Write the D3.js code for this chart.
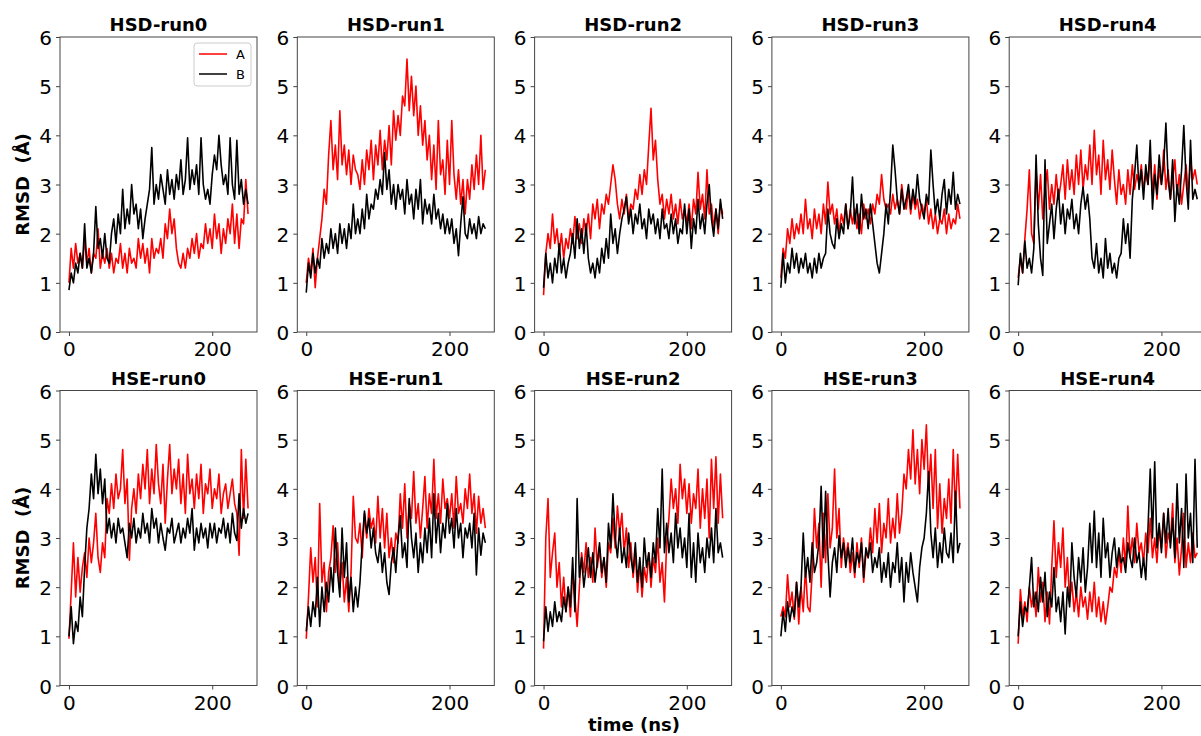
<!DOCTYPE html>
<html lang="en">
<head>
<meta charset="UTF-8">
<title>RMSD HSD / HSE runs</title>
<script src="https://d3js.org/d3.v7.min.js"></script>
<style>
  body { margin: 0; background: #fff; }
  svg { font-family: "DejaVu Sans", sans-serif; }
  .tick line { stroke: #444; }
  .title { font-size: 18px; font-weight: bold; }
  .lab { font-size: 18px; font-weight: bold; white-space: pre; }
</style>
</head>
<body>
<svg id="fig" width="1201" height="736"></svg>
<script>
// sampling step of the traces (ns), 81 samples from 0 to 250
var dt = 3.125;

var titles = ["HSD-run0", "HSD-run1", "HSD-run2", "HSD-run3", "HSD-run4",
              "HSE-run0", "HSE-run1", "HSE-run2", "HSE-run3", "HSE-run4"];
var yTicks = [0, 1, 2, 3, 4, 5, 6];
var xTicks = [0, 200];
var seriesNames = ["A", "B"];
var seriesColors = ["#ff0000", "#000000"];

// RMSD values (Å)
var hsd0A = [1.0,1.7,1.3,1.8,1.4,1.6,1.3,1.9, 1.4,1.7,1.2,1.6,1.5,2.1,1.3,1.6, 1.4,1.7,1.3,1.6,1.2,1.5,1.4,1.8,
  1.3,1.6,1.2,1.7,1.4,1.5,1.3,1.9, 1.5,1.8,1.4,1.7,1.2,1.9,1.5,1.7, 1.6,1.9,1.5,2.2,1.9,2.5,2.0,2.3,
  1.7,1.4,1.3,1.6,1.3,1.7,1.5,1.9, 1.6,2.0,1.5,1.8,1.7,2.2,1.8,2.1, 1.7,2.4,1.9,2.2,1.6,2.1,1.8,2.3,
  2.0,2.6,1.8,2.4,1.7,2.3,2.2,3.1, 2.4];
var hsd0B = [0.85,1.2,1.0,1.4,1.2,1.6,1.3,2.2, 1.3,1.5,1.2,1.6,2.55,1.7,1.9,1.5, 2.0,1.5,1.4,2.0,2.3,1.8,2.4,2.0,
  2.9,2.1,2.5,2.2,3.0,2.4,2.6,2.1, 2.5,1.9,2.3,2.6,2.9,3.75,2.6,3.0, 2.7,3.2,2.9,2.6,3.3,2.8,3.1,2.7,
  3.2,2.9,3.5,2.8,3.1,3.95,2.9,3.3, 3.0,3.4,2.8,3.95,3.0,2.7,2.9,2.6, 3.2,3.6,3.3,4.0,3.4,3.0,3.2,2.8,
  3.95,3.0,2.7,3.9,2.8,3.1,2.6,2.9, 2.6];

var hsd1A = [1.0,1.5,1.2,1.7,0.9,1.5,1.9,2.3, 2.9,2.6,3.6,4.3,3.3,3.8,3.1,4.5, 3.4,3.8,3.2,3.7,3.0,3.6,3.3,3.2,
  2.9,3.5,3.0,3.7,3.3,3.9,3.1,3.8, 3.4,4.1,3.3,3.9,3.5,4.2,3.4,4.5, 3.9,4.4,4.0,4.8,4.6,5.55,4.5,5.2,
  4.4,5.0,4.0,4.6,3.8,4.3,3.5,4.0, 3.1,3.8,2.9,4.3,3.2,3.5,2.8,3.9, 3.0,4.3,3.2,2.7,3.3,2.6,3.1,2.4,
  3.1,2.7,3.4,2.9,3.6,3.0,4.0,2.9, 3.3];
var hsd1B = [0.8,1.4,1.1,1.6,1.2,1.5,1.3,1.9, 1.5,1.8,1.6,2.1,1.7,2.0,1.6,2.2, 1.8,2.1,1.7,2.2,1.9,2.6,2.0,2.3,
  2.0,2.5,2.1,2.8,2.3,2.6,2.5,2.9, 2.7,3.1,2.8,3.65,2.9,3.3,2.6,3.0, 2.5,3.0,2.7,2.9,2.4,3.1,2.6,2.8,
  2.3,2.9,2.5,3.1,2.2,2.7,2.4,2.6, 2.2,2.8,2.3,2.5,2.1,2.4,2.0,2.3, 2.0,2.3,1.8,2.1,1.55,2.2,2.75,2.0,
  1.9,2.3,2.0,2.2,1.9,2.35,2.0,2.2, 2.1];

var hsd2A = [0.75,1.6,2.0,1.7,2.4,1.8,2.1,1.6, 2.0,1.5,1.9,1.7,2.1,1.8,2.35,1.9, 2.2,1.8,2.3,2.0,2.4,1.9,2.6,2.3,
  2.7,2.1,2.6,2.4,2.8,2.6,3.0,3.4, 3.1,2.6,2.3,2.7,2.4,2.8,2.3,2.6, 2.5,2.9,2.7,3.2,2.8,3.3,3.0,3.8,
  4.55,3.5,3.9,3.1,2.6,2.8,2.3,2.7, 2.4,2.8,2.3,2.6,2.2,2.7,2.3,2.5, 2.2,2.6,2.1,2.7,2.4,3.25,2.5,2.8,
  2.3,3.3,2.4,2.6,2.1,2.5,2.0,2.6, 2.4];
var hsd2B = [0.9,1.6,1.1,1.4,1.0,1.5,1.2,1.8, 1.2,1.5,1.1,1.4,1.6,2.0,1.5,2.3, 1.7,2.1,1.6,2.2,1.5,1.2,1.4,1.1,
  1.5,1.2,1.7,1.4,1.9,1.5,2.4,1.8, 2.1,1.6,2.0,2.3,2.5,2.75,2.2,2.5, 2.0,2.4,2.2,2.6,2.1,2.3,1.9,2.5,
  2.2,2.4,2.0,2.3,1.9,2.5,2.1,2.2, 1.9,2.4,2.0,2.3,1.8,2.1,2.0,2.6, 2.0,2.5,1.7,2.3,2.0,2.7,2.1,2.4,
  2.0,2.6,3.0,2.3,1.95,2.5,2.1,2.7, 2.3];

var hsd3A = [1.1,1.7,1.5,2.1,1.8,2.3,1.9,2.2, 2.0,2.4,2.0,2.7,2.1,2.3,1.9,2.5, 2.1,2.4,2.0,2.6,2.2,3.05,2.4,2.6,
  2.2,2.5,2.0,2.4,2.2,2.6,2.1,2.5, 2.2,2.5,2.1,2.4,2.0,2.6,2.3,2.5, 2.2,2.6,2.4,2.8,2.6,3.2,2.7,2.5,
  2.6,2.4,2.8,2.5,2.7,2.4,3.0,2.6, 2.5,2.9,2.4,2.8,2.5,2.7,2.3,2.6, 2.4,2.7,2.2,2.5,2.1,2.4,2.0,2.3,
  2.2,2.5,2.0,2.4,2.1,2.3,2.2,2.6, 2.3];
var hsd3B = [0.9,1.6,1.0,1.4,1.2,1.7,1.3,1.6, 1.2,1.5,1.3,1.6,1.2,1.4,1.1,1.5, 1.2,1.6,1.3,1.5,1.6,2.5,2.0,1.8,
  1.7,2.3,1.9,2.2,2.0,2.6,2.1,2.4, 3.15,2.2,2.6,2.0,2.8,2.3,2.5,2.1, 2.6,2.2,1.8,1.4,1.2,1.6,2.0,2.6,
  2.2,2.9,3.8,3.3,2.7,2.4,2.9,2.5, 2.7,3.0,2.5,2.9,2.6,3.2,2.7,2.5, 2.3,2.8,2.6,3.7,3.0,2.4,2.7,2.3,
  2.8,3.1,2.4,2.9,2.6,3.25,2.5,2.8, 2.6];

var hsd4A = [1.1,1.5,1.2,1.9,2.5,3.3,2.0,1.8, 3.3,2.5,3.2,2.3,2.9,3.3,2.5,3.0, 2.6,3.2,2.7,3.0,3.4,2.7,3.5,2.9,
  3.3,2.8,3.6,3.0,3.7,2.9,3.4,3.1, 3.8,3.0,4.1,3.2,3.6,2.8,3.9,3.1, 3.5,2.9,3.7,3.1,2.6,3.3,2.8,3.0,
  2.6,3.3,2.8,3.4,2.9,3.2,3.0,3.4, 2.9,3.2,3.0,3.6,2.8,3.4,2.7,3.3, 3.0,3.7,2.9,3.3,2.7,3.1,3.5,2.8,
  3.2,2.6,3.0,3.4,2.8,3.5,3.1,3.3, 3.0];
var hsd4B = [0.95,1.6,1.2,1.85,1.3,1.5,1.2,1.7, 3.6,2.2,1.5,1.15,3.5,1.8,2.2,2.6, 1.9,2.5,2.9,2.2,2.6,2.0,2.5,2.3,
  2.7,2.1,2.4,2.0,2.6,2.95,2.5,2.8, 2.3,1.5,1.3,1.8,1.2,1.5,1.1,1.9, 1.3,1.6,1.2,1.4,1.1,1.5,1.6,2.3,
  1.8,2.2,1.5,2.7,3.2,3.8,2.9,3.3, 2.7,3.4,3.0,3.9,2.5,3.2,2.8,3.6, 3.0,3.4,4.25,3.1,2.7,3.5,2.25,3.0,
  2.6,3.3,4.2,3.1,2.5,3.9,2.7,2.9, 2.7];

var hse0A = [0.95,1.9,2.9,1.8,2.6,1.9,2.4,2.7, 2.2,3.0,2.5,2.9,3.5,2.6,2.3,2.9, 2.6,3.8,3.5,4.1,3.6,4.3,3.8,4.0,
  4.8,3.7,4.2,2.55,3.6,4.0,3.5,4.3, 3.8,4.5,4.0,4.8,3.7,4.4,3.9,4.9, 4.1,3.7,4.5,3.3,4.2,4.9,3.9,4.4,
  4.0,4.6,3.7,4.3,3.5,4.7,3.9,4.2, 3.6,4.3,3.8,4.5,3.5,4.1,3.9,4.4, 3.6,4.0,3.8,4.3,3.5,3.9,4.1,3.6,
  3.9,4.2,3.7,3.5,2.65,4.8,3.4,4.6, 3.6];
var hse0B = [1.0,1.6,0.85,1.3,1.1,1.8,1.4,2.4, 3.2,3.6,4.3,3.8,4.7,3.9,4.4,3.7, 4.2,3.1,3.4,3.0,3.3,2.9,3.4,3.1,
  3.2,2.9,2.6,3.3,3.0,3.4,2.9,3.2, 3.0,3.5,3.1,3.3,2.9,3.6,3.2,3.4, 2.9,3.3,3.0,2.75,3.2,3.1,3.4,2.9,
  3.1,3.3,2.9,3.2,3.0,3.4,3.1,3.6, 2.75,3.2,2.9,3.3,3.0,3.2,2.8,3.3, 3.0,3.3,2.9,3.2,3.1,3.4,3.0,3.3,
  2.9,3.5,3.1,2.95,3.9,3.2,3.6,3.3, 3.5];

var hse1A = [0.95,1.8,2.8,2.1,2.6,1.6,3.7,2.1, 2.5,1.5,2.3,2.6,3.25,2.3,2.9,2.0, 2.5,1.7,2.2,1.5,2.3,3.85,3.0,2.9,
  3.3,2.6,3.5,3.0,3.6,3.2,3.4,2.9, 3.85,3.0,3.6,2.8,3.5,2.6,3.0,2.5, 3.1,2.9,3.9,3.2,4.1,3.0,3.7,3.4,
  4.35,3.3,3.7,3.0,3.6,4.25,3.2,3.9, 3.5,4.6,3.4,3.9,3.3,4.2,3.6,3.8, 3.4,3.9,3.2,4.25,3.5,3.7,3.3,4.0,
  3.6,4.3,3.5,3.9,3.1,3.85,3.3,3.6, 3.2];
var hse1B = [1.1,1.6,1.2,1.7,1.4,2.2,1.2,2.0, 1.5,2.1,1.7,2.4,1.9,3.2,2.3,1.8, 3.2,2.2,2.9,1.7,2.2,1.5,2.0,1.6,
  2.1,2.9,3.55,3.1,3.4,2.8,3.2,2.7, 2.5,2.9,2.3,2.7,2.1,1.85,2.5,2.8, 2.3,3.0,3.45,2.6,2.9,2.4,3.8,3.0,
  2.6,3.1,2.3,2.9,2.5,3.2,2.7,3.4, 2.6,3.9,2.9,3.5,2.7,3.3,3.0,3.7, 3.1,3.4,2.8,3.6,3.0,3.3,2.6,3.2,
  3.0,3.3,2.8,3.5,2.25,3.2,2.65,3.1, 2.9];

var hse2A = [0.75,3.0,3.8,2.2,2.7,3.1,2.0,2.5, 1.6,2.2,1.5,2.0,1.4,2.3,1.8,1.2, 2.0,2.7,2.3,2.9,2.2,2.6,2.1,3.2,
  2.4,2.8,2.2,2.6,2.0,2.9,2.7,3.4, 2.8,3.65,3.1,3.5,2.7,3.2,2.4,2.9, 2.2,2.7,1.9,2.5,1.8,2.4,2.1,2.7,
  2.0,2.6,2.3,3.0,2.1,2.5,1.7,2.9, 3.4,4.2,3.6,4.0,3.3,4.5,3.8,4.2, 3.5,4.1,3.3,3.9,3.6,4.4,3.2,4.0,
  3.4,4.2,3.0,4.6,3.6,4.65,3.3,4.3, 3.4];
var hse2B = [0.9,1.6,1.1,1.5,1.2,1.7,1.3,1.5, 1.3,1.8,1.5,2.0,1.6,2.6,1.5,3.8, 2.2,2.6,2.0,2.4,2.8,2.2,2.7,2.1,
  2.5,2.9,2.3,2.6,2.1,3.3,2.8,3.9, 3.0,2.6,3.2,2.5,2.8,2.4,3.1,2.6, 2.3,2.9,2.1,2.6,2.0,3.0,2.4,2.7,
  2.2,2.9,2.5,3.6,2.8,4.4,2.7,3.3, 2.7,3.1,2.5,3.5,2.8,3.2,2.6,3.0, 2.4,3.5,2.2,2.9,2.1,3.1,2.5,2.8,
  2.3,3.0,2.6,3.2,2.5,3.6,2.7,2.9, 2.6];

var hse3A = [1.4,1.6,1.4,2.25,1.6,1.9,1.35,2.1, 1.25,2.0,1.5,2.4,1.6,1.5,2.3,3.6, 2.8,3.3,2.0,3.5,2.5,3.9,2.8,3.2,
  4.4,3.0,3.6,2.4,3.0,2.6,2.9,2.3, 2.7,2.2,2.9,2.4,3.0,2.1,2.7,2.6, 3.2,2.7,3.6,2.9,3.7,2.7,3.3,3.0,
  3.8,2.9,3.4,3.0,3.9,3.1,3.5,4.3, 4.0,4.8,4.2,5.2,4.1,4.8,3.9,5.0, 4.4,5.3,4.0,4.7,3.6,4.8,3.2,4.1,
  3.1,3.8,3.4,4.2,3.3,4.8,3.5,4.7, 3.6];
var hse3B = [1.0,1.5,1.1,1.7,1.3,1.6,1.4,2.1, 1.6,2.0,3.1,2.2,2.6,2.1,2.9,2.3, 2.5,2.9,4.05,2.6,3.95,2.7,1.8,2.5,
  2.8,2.3,3.05,2.6,2.9,2.4,2.8,2.5, 3.0,2.3,2.7,2.5,2.9,2.2,2.8,2.6, 2.9,2.3,2.6,2.4,2.8,2.1,2.5,2.2,
  2.7,2.0,2.5,2.3,2.9,2.1,2.6,1.7, 2.5,2.1,2.7,2.3,2.0,1.7,2.4,2.8, 3.0,3.5,4.35,3.1,2.6,3.2,2.4,2.9,
  2.5,3.2,2.7,2.6,3.1,2.5,3.95,2.7, 2.9];

var hse4A = [0.85,1.95,1.4,1.7,1.3,2.0,1.6,1.9, 1.4,2.4,1.7,2.1,1.3,1.9,1.25,2.4, 3.35,2.2,2.9,2.4,3.2,2.0,2.6,1.7,
  2.1,1.5,1.9,1.4,2.0,1.6,1.8,1.35, 1.9,1.5,2.1,1.4,1.8,1.3,1.7,1.25, 1.6,2.0,1.9,2.4,2.2,2.7,2.3,3.0,
  2.4,3.65,2.6,3.0,2.5,3.3,2.7,2.9, 2.5,3.1,2.7,3.4,2.6,3.0,2.5,3.2, 2.8,3.5,2.6,3.1,2.9,3.7,2.5,3.0,
  2.25,2.8,3.5,2.4,2.9,2.5,3.1,2.6, 2.7];
var hse4B = [1.0,1.7,1.2,1.6,1.5,2.0,2.6,1.6, 1.9,1.5,2.2,1.7,2.3,1.4,1.9,1.6, 2.4,1.5,1.8,1.3,1.9,1.05,2.0,1.6,
  2.9,2.2,1.8,2.6,2.1,2.8,1.9,2.4, 3.3,2.5,3.55,2.4,3.1,2.2,3.4,2.6, 2.9,2.2,2.7,3.0,2.4,2.8,2.5,2.6,
  2.3,2.9,2.6,2.4,3.0,2.5,2.7,2.2, 2.6,2.15,3.2,4.4,3.0,4.55,2.8,3.3, 2.7,3.5,2.9,3.6,2.8,3.4,2.6,4.1,
  2.9,3.6,2.4,4.3,3.0,3.5,2.5,4.6, 2.8];

var seriesA = [hsd0A, hsd1A, hsd2A, hsd3A, hsd4A, hse0A, hse1A, hse2A, hse3A, hse4A];
var seriesB = [hsd0B, hsd1B, hsd2B, hsd3B, hsd4B, hse0B, hse1B, hse2B, hse3B, hse4B];

// layout
var pw = 197, ph = 295;
var colX = [60, 297.3, 534.6, 771.9, 1009.2];
var rowY = [37, 390.5];

var svg = d3.select("#fig");

var x = d3.scaleLinear().domain([-12.5, 262.5]).range([0, pw]);
var y = d3.scaleLinear().domain([0, 6]).range([ph, 0]);

var line = d3.line()
    .x(function(d, i) { return x(i * dt); })
    .y(function(d) { return y(d); });

function styleTicks(a) {
    a.select(".domain").remove();
    a.selectAll("text")
      .style("font-family", "DejaVu Sans")
      .style("font-size", "20px")
      .attr("fill", "#000");
}

titles.forEach(function(t, k) {
    var r = Math.floor(k / 5), c = k % 5;
    var g = svg.append("g")
        .attr("transform", "translate(" + colX[c] + "," + rowY[r] + ")");

    g.append("clipPath").attr("id", "clip" + k)
      .append("rect").attr("width", pw).attr("height", ph);

    var plot = g.append("g").attr("clip-path", "url(#clip" + k + ")");
    [seriesA[k], seriesB[k]].forEach(function(s, j) {
        plot.append("path")
            .datum(s)
            .attr("d", line)
            .attr("fill", "none")
            .attr("stroke", seriesColors[j])
            .attr("stroke-width", 1.6)
            .attr("stroke-linejoin", "round");
    });

    // frame
    g.append("rect")
      .attr("width", pw).attr("height", ph)
      .attr("fill", "none").attr("stroke", "#444").attr("stroke-width", 1);

    g.append("g")
      .attr("transform", "translate(0," + ph + ")")
      .call(d3.axisBottom(x).tickValues(xTicks).tickFormat(d3.format("d"))
            .tickSize(4).tickPadding(6).tickSizeOuter(0))
      .call(styleTicks);

    g.append("g")
      .call(d3.axisLeft(y).tickValues(yTicks).tickFormat(d3.format("d"))
            .tickSize(4).tickPadding(4).tickSizeOuter(0))
      .call(styleTicks)
      .selectAll("text").attr("dy", "0.38em");

    g.append("text")
      .attr("class", "title")
      .attr("x", pw / 2).attr("y", -6)
      .attr("text-anchor", "middle")
      .text(t);

    if (c === 0) {
        svg.append("text")
          .attr("class", "lab")
          .attr("transform", "translate(29," + (rowY[r] + ph / 2) + ") rotate(-90)")
          .attr("text-anchor", "middle")
          .text("RMSD  (Å)");
    }

    if (k === 0) {
        var lg = g.append("g").attr("transform", "translate(134,6)");
        lg.append("rect")
          .attr("width", 57).attr("height", 43).attr("rx", 3)
          .attr("fill", "#fff").attr("stroke", "#ccc");
        seriesNames.forEach(function(n, j) {
            lg.append("line")
              .attr("x1", 5).attr("x2", 33)
              .attr("y1", 11 + j * 20).attr("y2", 11 + j * 20)
              .attr("stroke", seriesColors[j]).attr("stroke-width", 1.5);
            lg.append("text")
              .attr("x", 42).attr("y", 11 + j * 20)
              .attr("dy", "0.35em")
              .attr("font-size", 13)
              .text(n);
        });
    }
});

svg.append("text")
  .attr("class", "lab")
  .attr("x", 634).attr("y", 731)
  .attr("text-anchor", "middle")
  .text("time (ns)");
</script>
</body>
</html>
